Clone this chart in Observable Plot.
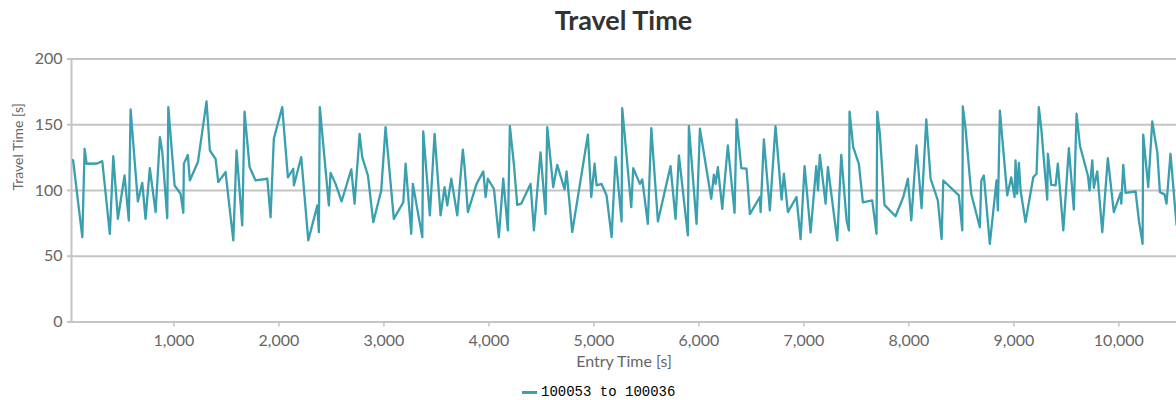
<!DOCTYPE html>
<html>
<head>
<meta charset="utf-8">
<script src="https://cdn.jsdelivr.net/npm/d3@7"></script>
<script src="https://cdn.jsdelivr.net/npm/@observablehq/plot@0.6"></script>
<style>
  html, body { margin: 0; padding: 0; background: #fff; }
  #wrap { position: relative; width: 1176px; height: 400px; font-family: Lato, "Open Sans", sans-serif; }
  #title { position: absolute; left: 71px; width: 1105px; top: 3px; line-height: 34px; text-align: center; font-size: 27px; font-weight: 700; color: #333; }
  #chart { position: absolute; left: 0; top: 45px; }
  #legend { position: absolute; left: 522px; top: 385px; height: 14px; line-height: 14px; display: flex; align-items: center; font-family: "Liberation Mono", "DejaVu Sans Mono", monospace; font-size: 14px; color: #000; }
  #legend .sw { width: 15px; height: 3px; background: #3a9fae; margin-right: 4px; }
</style>
</head>
<body>
<div id="wrap">
  <div id="title">Travel Time</div>
  <div id="chart"></div>
  <div id="legend"><span class="sw"></span><span>100053 to 100036</span></div>
</div>
<script>
const seriesName = "100053 to 100036";
const entryTime = [
  40,128,150,169,270,318,390,423,467,530,571,588,657,699,730,771,826,867,890,937,947,1007,
  1064,1090,1095,1133,1152,1229,1311,1343,1397,1423,1492,1566,1597,1651,1673,1721,1778,1890,1921,1952,2032,
  2086,2137,2143,2213,2280,2366,2381,2390,2476,2492,2540,2597,2690,2721,2769,2794,2848,2899,2975,3016,3095,
  3185,3207,3261,3276,3366,3375,3438,3483,3540,3578,3604,3642,3699,3752,3769,3800,3883,3947,3969,3990,4048,4095,
  4137,4181,4200,4238,4270,4309,4397,4429,4492,4540,4556,4613,4651,4721,4740,4794,4943,4975,5007,5026,5073,5121,5169,
  5207,5264,5270,5356,5375,5438,5461,5514,5547,5610,5730,5778,5810,5895,5905,5978,6010,6118,6143,6159,6181,6223,
  6276,6340,6359,6404,6454,6486,6581,6588,6619,6676,6730,6788,6810,6848,6930,6969,7007,7064,7118,7135,7152,7207,7229,
  7318,7356,7407,7429,7435,7470,7524,7562,7651,7692,7699,7724,7768,7873,7947,7991,8023,8073,8121,8166,8207,8276,8312,8328,
  8476,8509,8514,8540,8594,8676,8690,8714,8771,8835,8848,8867,8937,8975,9007,9016,9032,9048,9064,9111,9185,9216,9238,9261,9318,9324,9356,
  9397,9419,9471,9524,9571,9597,9629,9705,9721,9747,9762,9794,9842,9895,9952,10016,10023,10042,10064,10159,10191,10226,10232,10280,10318,10366,10391,10435,10454,10492,10549
];
const travelTime = [
  123,64.5,131.7,120.3,120.5,122.3,67,126,78.4,111.4,77,161.6,91.6,105.8,78.4,117,83.5,140.6,129.2,79,163.4,103.8,
  97.5,83,120.3,127,107.6,121.6,167.7,130.4,124,106.3,114,62,130.4,73.4,160,117.8,107.6,108.9,79.6,139.3,163.4,
  110,116.5,103.8,125.4,62,88.6,68.3,163.4,88.6,113.4,105,91.6,116,89.9,143,125.4,111.4,75.9,100,148.2,78.4,
  91,120.3,67,105,64.5,145,81,143,81,102.5,88.6,108.9,81,131,117.8,83.5,105,114.5,95,108.9,101.3,64.5,
  109,69.6,149,120.3,89,90,105,69.6,129,82,148.2,102.5,119.5,100.8,114.5,68.3,142.4,95,120.3,103.8,105,96.2,64.5,
  125.4,76.4,162.7,87.3,117,105,108.4,74.6,147.4,76.4,118.5,78.4,126.6,65.8,149,74.6,147,93.7,112,105,117.8,86,
  134.2,83,154,117,116.5,82,95,83.5,138.8,84.8,149,93,112.7,83.5,95,63,118.5,68,118.5,100,127,89.9,117.8,
  62,127,77.2,69.6,160,133,120.3,91,92.4,67,160,143,89,80.4,95,108.9,77.2,134.2,86.5,154,108.9,92.4,63,107.6,
  96.2,69.6,164,147,97.5,72,107.6,111.4,59.4,107.6,84.8,160.7,96.2,110,95,122.8,97.5,121,100,75.9,110,112.7,163.4,147,93,127.9,104.3,
  103.8,120.3,69.6,132.2,85.5,158.4,134.2,111.4,100,122.8,102,114.5,68.3,124.6,83.5,98,90,119.5,98.2,99.2,77,59.4,142.4,102.5,152.5,129.2,98.7,97,89.9,127.9,74
];
const xTicks = [1000,2000,3000,4000,5000,6000,7000,8000,9000,10000];
const yTicks = [0,50,100,150,200];
const xLabel = "Entry Time [s]";
const yLabel = "Travel Time [s]";

const data = entryTime.map((x, i) => ({x, y: travelTime[i], series: seriesName}));
const gray = "#c4c4c4";
const labelColor = "#666";

const chart = Plot.plot({
  width: 1176,
  height: 335,
  marginLeft: 71,
  marginRight: 0,
  marginTop: 13.5,
  marginBottom: 58.6,
  style: {fontFamily: "Lato, 'Open Sans', sans-serif", fontSize: "16px", color: labelColor, background: "transparent"},
  x: {domain: [25, 10549]},
  y: {domain: [0, 200]},
  marks: [
    Plot.gridY(yTicks, {stroke: gray, strokeOpacity: 1, strokeWidth: 2}),
    Plot.ruleX([25], {stroke: gray, strokeWidth: 2}),
    Plot.axisX(xTicks, {tickFormat: d3.format(","), tickSize: 5, tickPadding: 8, stroke: gray, strokeWidth: 1.5, label: null, fill: labelColor, fontSize: 16}),
    Plot.axisY(yTicks, {tickSize: 4, tickPadding: 5, stroke: gray, strokeWidth: 2, label: null, fill: labelColor, fontSize: 16}),
    Plot.line(data, {x: "x", y: "y", stroke: "#3a9fae", strokeWidth: 2.3, curve: "linear"}),
    Plot.text([xLabel], {frameAnchor: "bottom", dy: 45, fill: labelColor, fontSize: 16, text: d => d}),
    Plot.text([yLabel], {frameAnchor: "left", dx: -53, rotate: -90, fill: labelColor, fontSize: 14, text: d => d})
  ]
});
document.getElementById("chart").appendChild(chart);
</script>
</body>
</html>
